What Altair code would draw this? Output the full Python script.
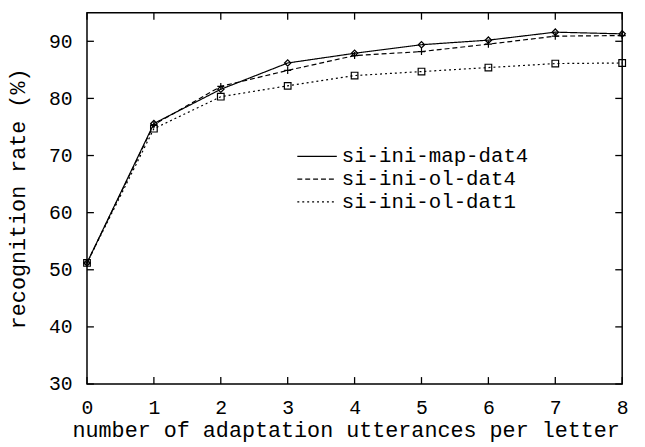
import altair as alt
import pandas as pd

# ---- data ----
x_vals = [0, 1, 2, 3, 4, 5, 6, 7, 8]
map_dat4 = [51.2, 75.6, 81.6, 86.2, 87.9, 89.4, 90.2, 91.6, 91.3]
ol_dat4 = [51.2, 75.4, 82.1, 84.9, 87.5, 88.2, 89.5, 90.9, 91.0]
ol_dat1 = [51.2, 74.7, 80.3, 82.2, 84.0, 84.7, 85.4, 86.1, 86.2]
series_names = ["si-ini-map-dat4", "si-ini-ol-dat4", "si-ini-ol-dat1"]
x_ticks = [0, 1, 2, 3, 4, 5, 6, 7, 8]
y_ticks = [30, 40, 50, 60, 70, 80, 90]

FONT = "Liberation Mono"
X_MIN, X_MAX = 0, 8
Y_MIN, Y_MAX = 30, 95
W, H = 542, 376
TICK_PX = 7
dx = TICK_PX / W * (X_MAX - X_MIN)
dy = TICK_PX / H * (Y_MAX - Y_MIN)

rows = []
for name, vals in zip(series_names, [map_dat4, ol_dat4, ol_dat1]):
    for xv, yv in zip(x_vals, vals):
        rows.append({"x": xv, "y": yv, "series": name})
df = pd.DataFrame(rows)

# inward tick segments along the frame (gnuplot style)
yt = pd.DataFrame({"y": y_ticks,
                   "l1": [X_MIN] * len(y_ticks), "l2": [X_MIN + dx] * len(y_ticks),
                   "r1": [X_MAX - dx] * len(y_ticks), "r2": [X_MAX] * len(y_ticks)})
xt = pd.DataFrame({"x": x_ticks,
                   "b1": [Y_MIN] * len(x_ticks), "b2": [Y_MIN + dy] * len(x_ticks),
                   "t1": [Y_MAX - dy] * len(x_ticks), "t2": [Y_MAX] * len(x_ticks)})

xscale = alt.Scale(domain=[X_MIN, X_MAX], nice=False, zero=False)
yscale = alt.Scale(domain=[Y_MIN, Y_MAX], nice=False, zero=False)

x_axis = alt.Axis(values=x_ticks, format="d", ticks=False, tickSize=0, domain=False,
                  grid=False, labelFlush=False,
                  labelFont=FONT, labelFontSize=20, labelColor="black",
                  labelPadding=14, title="number of adaptation utterances per letter",
                  titleFont=FONT, titleFontSize=22, titleFontWeight="normal",
                  titleColor="black", titleX=262, titleY=46, titleBaseline="middle")
y_axis = alt.Axis(values=y_ticks, format="d", ticks=False, tickSize=0, domain=False,
                  grid=False, labelFlush=False,
                  labelFont=FONT, labelFontSize=20, labelColor="black",
                  labelPadding=15, title="recognition rate (%)",
                  titleFont=FONT, titleFontSize=22, titleFontWeight="normal",
                  titleColor="black", titleX=-70, titleY=188, titleAngle=270,
                  titleBaseline="middle", titleAlign="center")

base = alt.Chart(df)

lines = base.mark_line(color="black", strokeWidth=1.2).encode(
    x=alt.X("x:Q", scale=xscale, axis=x_axis),
    y=alt.Y("y:Q", scale=yscale, axis=y_axis),
    strokeDash=alt.StrokeDash(
        "series:N",
        scale=alt.Scale(domain=series_names, range=[[1, 0], [5, 3], [2, 3]]),
        sort=series_names,
        legend=alt.Legend(orient="none", legendX=212, legendY=135,
                          title=None, labelFont=FONT, labelFontSize=21,
                          labelColor="black", labelLimit=400, clipHeight=21,
                          symbolSize=1600, symbolStrokeColor="black",
                          symbolStrokeWidth=1.2, rowPadding=1)),
)

pt_map = base.transform_filter(alt.datum.series == series_names[0]).mark_point(
    shape="diamond", size=40, filled=False, color="black", strokeWidth=1.3, opacity=1
).encode(x="x:Q", y="y:Q")
pt_ol4 = base.transform_filter(alt.datum.series == series_names[1]).mark_point(
    shape="M-1,0H1M0,-1V1", size=50, filled=False, color="black", strokeWidth=1.2, opacity=1
).encode(x="x:Q", y="y:Q")
pt_ol1 = base.transform_filter(alt.datum.series == series_names[2]).mark_point(
    shape="square", size=45, filled=False, color="black", strokeWidth=1.2, opacity=1
).encode(x="x:Q", y="y:Q")

tick_left = alt.Chart(yt).mark_rule(color="black", strokeWidth=1.3).encode(
    x="l1:Q", x2="l2:Q", y="y:Q")
tick_right = alt.Chart(yt).mark_rule(color="black", strokeWidth=1.3).encode(
    x="r1:Q", x2="r2:Q", y="y:Q")
tick_bottom = alt.Chart(xt).mark_rule(color="black", strokeWidth=1.3).encode(
    x="x:Q", y="b1:Q", y2="b2:Q")
tick_top = alt.Chart(xt).mark_rule(color="black", strokeWidth=1.3).encode(
    x="x:Q", y="t1:Q", y2="t2:Q")

chart = alt.layer(
    lines, pt_map, pt_ol4, pt_ol1,
    tick_left, tick_right, tick_bottom, tick_top,
).properties(
    width=W, height=H,
    padding={"left": 80, "top": 2, "right": 15, "bottom": 61},
    autosize=alt.AutoSizeParams(type="none"),
    background="white",
).configure_view(stroke="black", strokeWidth=1.5)

chart.save("out.html", embed_options={"renderer": "svg", "actions": False})
